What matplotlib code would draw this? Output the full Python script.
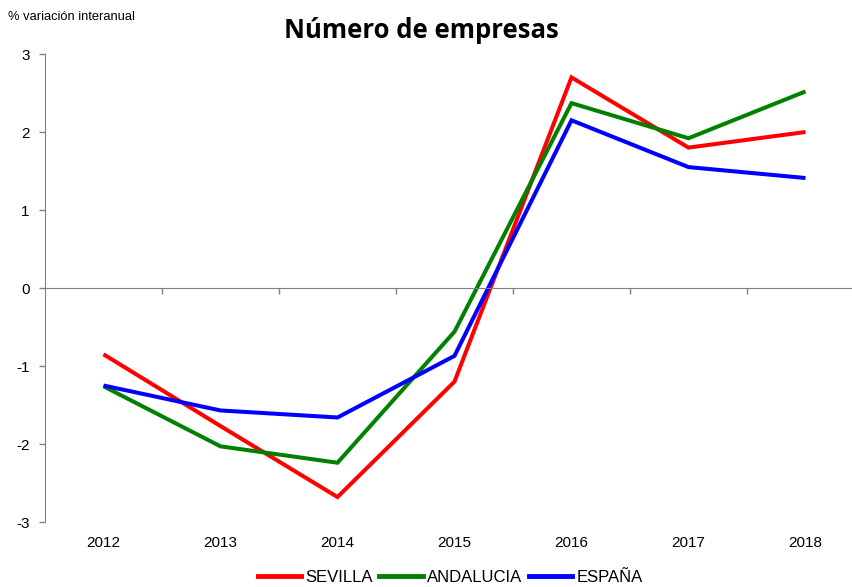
import matplotlib.pyplot as plt
from matplotlib.lines import Line2D

# datos: % variacion interanual del numero de empresas
anios = ['2012', '2013', '2014', '2015', '2016', '2017', '2018']
sevilla = [-0.85, -1.77, -2.68, -1.20, 2.70, 1.80, 2.00]
andalucia = [-1.26, -2.03, -2.24, -0.56, 2.37, 1.92, 2.52]
espana = [-1.25, -1.57, -1.66, -0.87, 2.15, 1.55, 1.41]

series = [('SEVILLA', sevilla, '#ff0000'),
          ('ANDALUCIA', andalucia, '#008000'),
          ('ESPAÑA', espana, '#0000ff')]

plt.rcParams['font.family'] = ['Liberation Sans', 'DejaVu Sans']
plt.rcParams['axes.unicode_minus'] = False

fig = plt.figure(figsize=(8.53, 5.87), dpi=100)
W, H = 853, 587
ax = fig.add_axes([45 / W, 1 - 522 / H, (864 - 45) / W, (522 - 54) / H])

x = list(range(len(anios)))
for nombre, valores, color in series:
    ax.plot(x, valores, color=color, lw=2.9, label=nombre,
            solid_joinstyle='miter', solid_capstyle='butt')

ax.set_xlim(-0.5, len(anios) - 0.5)
ax.set_ylim(-3, 3)
ax.set_yticks([-3, -2, -1, 0, 1, 2, 3])
ax.tick_params(axis='y', direction='out', length=4, width=1, color='#808080',
               labelsize=11, pad=7)

# eje horizontal en el cero, marcas entre categorias
ax.spines['bottom'].set_position(('data', 0))
ax.spines['bottom'].set_color('#808080')
ax.spines['left'].set_color('#808080')
ax.spines['top'].set_visible(False)
ax.spines['right'].set_visible(False)
ax.set_xticks([i + 0.5 for i in range(len(anios) - 1)])
ax.set_xticklabels([])
ax.tick_params(axis='x', direction='out', length=4, width=1, color='#808080')

# etiquetas de los anios debajo del grafico
for i, a in enumerate(anios):
    ax.annotate(a, xy=(i, -3), xytext=(0, -15), textcoords='offset points',
                ha='center', va='center', fontsize=11, annotation_clip=False)

fig.text(421 / W, 1 - 30 / H, 'Número de empresas', ha='center', va='center',
         fontsize=18.5, fontweight='bold', family=['Open Sans', 'DejaVu Sans'])
fig.text(8 / W, 1 - 17 / H, '% variación interanual', ha='left', va='center',
         fontsize=9.3)

handles = [Line2D([], [], color=c, lw=3.5) for _, _, c in series]
fig.legend(handles, [n for n, _, _ in series], loc='center',
           bbox_to_anchor=(450 / W, 1 - 577 / H), ncol=3, frameon=False,
           fontsize=12, handlelength=2.6, handletextpad=0.25, columnspacing=0.4,
           borderpad=0)

fig.savefig('out.png', dpi=100)
